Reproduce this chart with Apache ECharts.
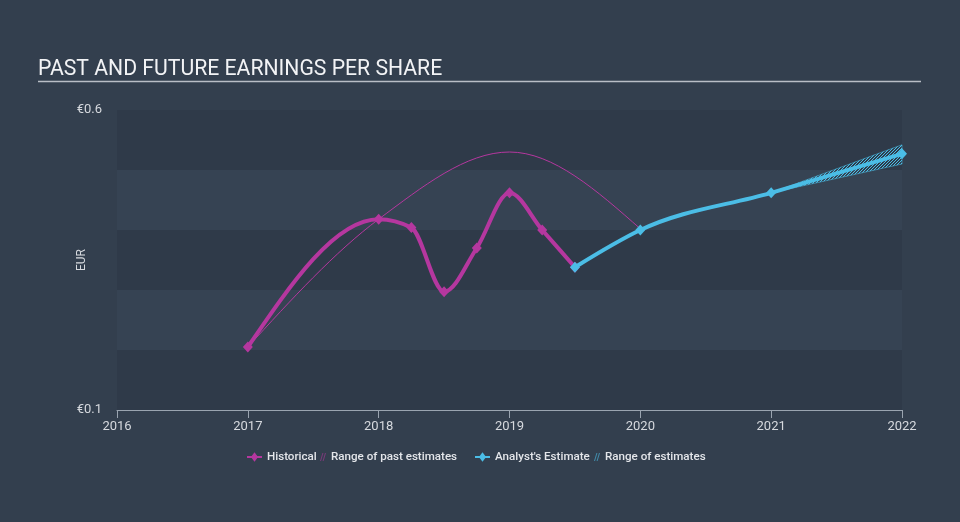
<!DOCTYPE html>
<html>
<head>
<meta charset="utf-8">
<script src="https://cdn.jsdelivr.net/npm/echarts@6/dist/echarts.min.js"></script>
<style>
  html, body { margin: 0; padding: 0; background: #333f4e; }
  #chart { width: 960px; height: 522px; }
</style>
</head>
<body>
<div id="chart"></div>
<script>
// ---- data ----
const xTicks = [2016, 2017, 2018, 2019, 2020, 2021, 2022];
const yTickLabels = { '0.1': '€0.1', '0.6': '€0.6' };
const histX = [2017, 2018, 2018.25, 2018.5, 2018.75, 2019, 2019.25, 2019.5];
const histY = [0.205, 0.418, 0.404, 0.297, 0.370, 0.462, 0.400, 0.338];
const pastRangeX = [2017, 2018, 2019, 2020];
const pastRangeY = [0.205, 0.418, 0.530, 0.402];
const estX = [2019.5, 2020, 2021, 2022];
const estY = [0.338, 0.400, 0.462, 0.527];
const rangeX = [2021, 2022];
const rangeLow = [0.462, 0.510];
const rangeHigh = [0.462, 0.542];

const MAGENTA = '#b5379f';
const BLUE = '#4bbde6';
const FONT = 'Roboto, "DejaVu Sans", sans-serif';

// monotone-x cubic (as in d3.curveMonotoneX), in pixel space
function sgn(x) { return x < 0 ? -1 : 1; }
function slope3(p0, p1, p2) {
  const h0 = p1[0] - p0[0], h1 = p2[0] - p1[0];
  const s0 = (p1[1] - p0[1]) / h0, s1 = (p2[1] - p1[1]) / h1;
  const p = (s0 * h1 + s1 * h0) / (h0 + h1);
  return (sgn(s0) + sgn(s1)) * Math.min(Math.abs(s0), Math.abs(s1), 0.5 * Math.abs(p)) || 0;
}
function slope2(p0, p1, t) {
  const h = p1[0] - p0[0];
  return h ? (3 * (p1[1] - p0[1]) / h - t) / 2 : t;
}
function monotonePath(pts) {
  const n = pts.length;
  let d = 'M' + pts[0][0] + ',' + pts[0][1];
  if (n === 2) return d + ' L' + pts[1][0] + ',' + pts[1][1];
  const t = new Array(n);
  for (let i = 1; i < n - 1; i++) t[i] = slope3(pts[i - 1], pts[i], pts[i + 1]);
  t[0] = slope2(pts[0], pts[1], t[1]);
  t[n - 1] = slope2(pts[n - 2], pts[n - 1], t[n - 2]);
  for (let i = 0; i < n - 1; i++) {
    const a = pts[i], b = pts[i + 1];
    const dx = (b[0] - a[0]) / 3;
    d += ' C' + (a[0] + dx) + ',' + (a[1] + dx * t[i]) + ' ' + (b[0] - dx) + ',' + (b[1] - dx * t[i + 1]) + ' ' + b[0] + ',' + b[1];
  }
  return d;
}
function diamond(c, color) {
  return {
    type: 'polygon',
    shape: { points: [[c[0], c[1] - 5.5], [c[0] + 5, c[1]], [c[0], c[1] + 5.5], [c[0] - 5, c[1]]] },
    style: { fill: color }
  };
}
function lineSeries(name, xs, ys, color, width, markers) {
  return {
    name: name,
    type: 'custom',
    coordinateSystem: 'cartesian2d',
    clip: false,
    encode: { x: 0, y: 1 },
    data: xs.map((x, i) => [x, ys[i]]),
    itemStyle: { color: color },
    renderItem: function (params, api) {
      const children = [];
      if (params.dataIndex === 0) {
        const pts = xs.map((x, i) => api.coord([x, ys[i]]));
        children.push({
          type: 'path',
          shape: { pathData: monotonePath(pts) },
          style: { fill: 'none', stroke: color, lineWidth: width, lineJoin: 'round', lineCap: 'round' }
        });
      }
      if (markers) children.push(diamond(api.coord([xs[params.dataIndex], ys[params.dataIndex]]), color));
      return { type: 'group', children: children };
    }
  };
}

// hatch pattern
function hatch(color) {
  const c = document.createElement('canvas');
  c.width = 3; c.height = 3;
  const g = c.getContext('2d');
  g.fillStyle = color;
  for (let i = 0; i < 3; i++) { g.fillRect(i, 2 - i, 1, 1); }
  return c;
}

const chart = echarts.init(document.getElementById('chart'), null, { renderer: 'canvas' });

const lineIcon = 'path://M0,5 L5,5 L8,1 L11,5 L16,5 L16,7 L11,7 L8,11 L5,7 L0,7 Z';
const hatchIcon = 'path://M0,10 L3,0 L4.3,0 L1.3,10 Z M3.2,10 L6.2,0 L7.5,0 L4.5,10 Z';
const legendText = { color: '#e4e6ea', fontSize: 11.6, fontFamily: FONT, fontWeight: 500 };
function legend(left, name, icon, color, w) {
  return {
    left: left, top: 451, padding: 0, itemWidth: w, itemHeight: 11, selectedMode: false,
    textStyle: legendText,
    data: [{ name: name, icon: icon, itemStyle: { color: color, opacity: 1 } }]
  };
}

const option = {
  backgroundColor: '#333f4e',
  animation: false,
  title: {
    text: 'PAST AND FUTURE EARNINGS PER SHARE',
    left: 33, top: 54,
    textStyle: { color: '#f2f3f5', fontSize: 21.2, fontWeight: 'normal', fontFamily: FONT }
  },
  graphic: [{
    type: 'line', shape: { x1: 38, y1: 81.5, x2: 921, y2: 81.5 },
    style: { stroke: '#b9bec6', lineWidth: 1.5 }
  }],
  legend: [
    legend(247, 'Historical', lineIcon, MAGENTA, 15),
    legend(320, 'Range of past estimates', hatchIcon, 'rgba(181,55,159,0.55)', 6),
    legend(475, "Analyst's Estimate", lineIcon, BLUE, 15),
    legend(594, 'Range of estimates', hatchIcon, 'rgba(75,189,230,0.6)', 6)
  ],
  grid: { left: 117, right: 58, top: 110, bottom: 112 },
  xAxis: {
    type: 'value', min: xTicks[0], max: xTicks[xTicks.length - 1], interval: 1,
    axisLine: { lineStyle: { color: '#9aa4b0', width: 1 } },
    axisTick: { show: true, length: 8, lineStyle: { color: '#9aa4b0' } },
    axisLabel: { color: '#d6d9de', fontSize: 13, fontFamily: FONT, margin: 10, formatter: v => String(v) },
    splitLine: { show: false }
  },
  yAxis: {
    type: 'value', min: 0.1, max: 0.6, interval: 0.1,
    name: 'EUR', nameLocation: 'middle', nameGap: 29, nameRotate: 90, nameMoveOverlap: false,
    nameTextStyle: { color: '#d6d9de', fontSize: 12, fontFamily: FONT },
    axisLine: { show: false }, axisTick: { show: false },
    axisLabel: {
      color: '#d6d9de', fontSize: 13, fontFamily: FONT, margin: 15,
      formatter: v => yTickLabels[v.toFixed(1)] || ''
    },
    splitLine: { show: false },
    splitArea: { show: true, areaStyle: { color: ['#2f3a49', '#364353'] } }
  },
  series: [
    lineSeries('Range of past estimates', pastRangeX, pastRangeY, MAGENTA, 1, false),
    lineSeries('Historical', histX, histY, MAGENTA, 4, true),
    {
      name: 'Range of estimates',
      type: 'custom',
      coordinateSystem: 'cartesian2d',
      clip: false,
      encode: { x: 0, y: 1 },
      data: rangeX.map((x, i) => [x, rangeLow[i], rangeHigh[i]]),
      itemStyle: { color: BLUE },
      renderItem: function (params, api) {
        if (params.dataIndex !== 0) return null;
        const top = rangeX.map((x, i) => api.coord([x, rangeHigh[i]]));
        const bot = rangeX.map((x, i) => api.coord([x, rangeLow[i]])).reverse();
        return {
          type: 'polygon',
          shape: { points: top.concat(bot) },
          style: { fill: { image: hatch(BLUE), repeat: 'repeat' }, stroke: 'rgba(75,189,230,0.55)', lineWidth: 1 }
        };
      }
    },
    lineSeries("Analyst's Estimate", estX, estY, BLUE, 4, true)
  ]
};
chart.setOption(option);
</script>
</body>
</html>
